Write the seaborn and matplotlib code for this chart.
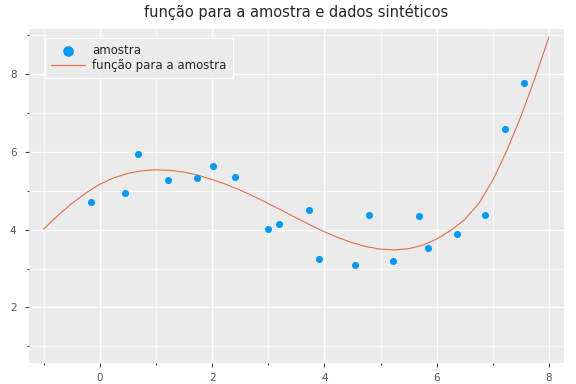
import matplotlib
matplotlib.use('Agg')
import matplotlib.pyplot as plt
import seaborn as sns
from matplotlib.ticker import MultipleLocator

# amostra
sample_x = [-0.15, 0.45, 0.68, 1.22, 1.73, 2.02, 2.41, 2.99, 3.20, 3.73,
            3.91, 4.55, 4.80, 5.22, 5.69, 5.84, 6.36, 6.86, 7.22, 7.55]
sample_y = [4.72, 4.94, 5.95, 5.29, 5.34, 5.65, 5.35, 4.03, 4.15, 4.50,
            3.24, 3.08, 4.37, 3.20, 4.34, 3.53, 3.88, 4.39, 6.60, 7.78]

# função ajustada (valores lidos ao longo da curva, passo 0.25)
curve_x = [-1.0, -0.75, -0.5, -0.25, 0.0, 0.25, 0.5, 0.75, 1.0, 1.25,
           1.5, 1.75, 2.0, 2.25, 2.5, 2.75, 3.0, 3.25, 3.5, 3.75,
           4.0, 4.25, 4.5, 4.75, 5.0, 5.25, 5.5, 5.75, 6.0, 6.25,
           6.5, 6.75, 7.0, 7.25, 7.5, 7.75, 8.0]
curve_y = [4.02, 4.365, 4.675, 4.945, 5.17, 5.335, 5.448, 5.515, 5.54, 5.528,
           5.48, 5.40, 5.29, 5.165, 5.018, 4.853, 4.675, 4.49, 4.303, 4.12,
           3.948, 3.793, 3.663, 3.563, 3.50, 3.48, 3.51, 3.60, 3.76, 3.98,
           4.26, 4.67, 5.27, 6.03, 6.91, 7.89, 8.95]

sns.set_theme(style='darkgrid', rc={
    'axes.facecolor': '#EBEBEB',
    'grid.color': 'white',
})
plt.rcParams['font.family'] = ['DejaVu Sans']

fig = plt.figure(figsize=(5.76, 3.84), dpi=100)
ax = fig.add_axes([0.0497, 0.0555, 0.9295, 0.8698])

sns.scatterplot(x=sample_x, y=sample_y, ax=ax, color='#009AFA', s=26,
                linewidth=0, label='amostra', zorder=3)
sns.lineplot(x=curve_x, y=curve_y, ax=ax, color='#E26F46', linewidth=0.8,
             label='função para a amostra', zorder=2)

ax.set_xlim(-1.27, 8.27)
ax.set_ylim(0.58, 9.17)
ax.xaxis.set_major_locator(MultipleLocator(2))
ax.xaxis.set_minor_locator(MultipleLocator(1))
ax.yaxis.set_major_locator(MultipleLocator(2))
ax.yaxis.set_minor_locator(MultipleLocator(1))
ax.grid(which='major', color='white', linewidth=1.0)
ax.grid(which='minor', color='white', linewidth=0.6, alpha=0.75)
ax.tick_params(which='major', direction='out', length=3.2, width=0.8,
               color='#444444', labelcolor='#555555', labelsize=7.5, pad=4.5,
               bottom=True, left=True)
ax.tick_params(axis='y', which='major', pad=5.5)
ax.tick_params(which='minor', direction='out', length=1.5, width=0.8,
               color='#444444', bottom=True, left=True)
for s in ax.spines.values():
    s.set_visible(False)

ax.set_title('função para a amostra e dados sintéticos', fontsize=10.5, pad=8.5)

leg = ax.legend(loc='upper left', bbox_to_anchor=(0.0306, 0.972), borderaxespad=0,
                fontsize=8.5, markerscale=1.5, handlelength=2.9, handletextpad=0.6,
                labelspacing=0.15, borderpad=0.5, fancybox=False, frameon=True)
leg.get_frame().set_facecolor('#EBEBEB')
leg.get_frame().set_edgecolor('white')
leg.get_frame().set_linewidth(1.0)
leg.get_frame().set_alpha(1)

fig.savefig('out.png', dpi=100)
